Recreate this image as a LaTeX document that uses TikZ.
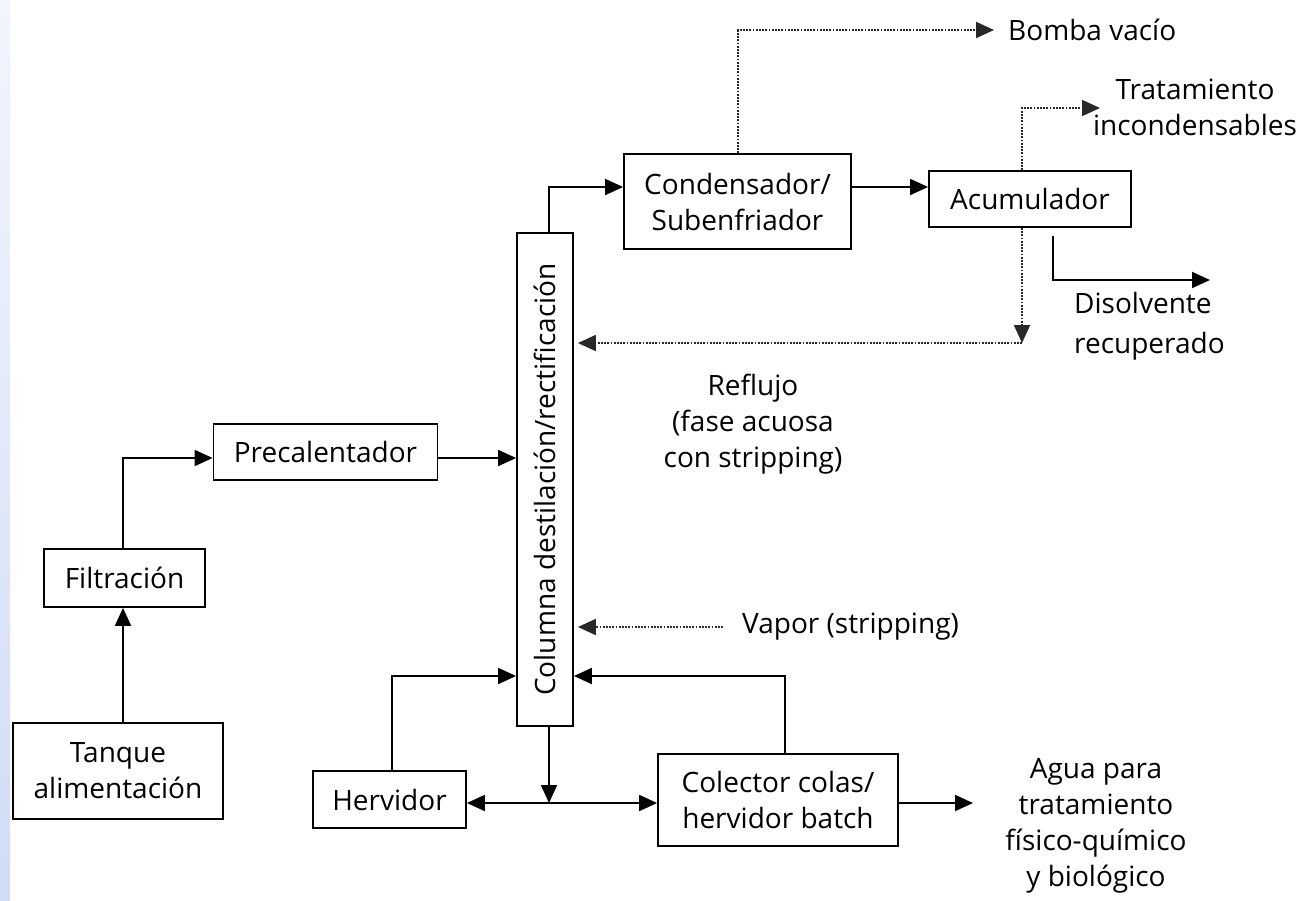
\documentclass[tikz,border=0pt]{standalone}
\usepackage{fontspec}
\setmainfont{Open Sans}
\usetikzlibrary{arrows.meta,calc}
\definecolor{stripTop}{RGB}{242,245,253}
\definecolor{stripBot}{RGB}{208,220,246}
\definecolor{dotgray}{RGB}{40,40,40}
\begin{document}
\begin{tikzpicture}[x=1pt,y=-1pt,
  txt/.style={font=\fontsize{28}{36}\selectfont},
  box/.style={txt, draw, line width=1.8pt, inner sep=0pt, align=center},
  lbl/.style={txt, inner sep=0pt, align=center},
  tip/.tip={Triangle[length=18pt,width=16pt]},
  flow/.style={line width=1.9pt, -tip},
  flowboth/.style={line width=1.9pt, tip-tip},
  dotflow/.style={line width=1.8pt, dotgray, dash pattern=on 1.8pt off 1.4pt, -tip}]
\useasboundingbox (0,0) rectangle (1305,900);
\fill[white] (0,0) rectangle (1305,900);
\shade[top color=stripTop, bottom color=stripBot] (0,0) rectangle (10,900);

% boxes
\node[box, minimum width=210pt, minimum height=96pt] (tanque) at (118,771) {Tanque\\alimentación};
\node[box, minimum width=161pt, minimum height=58pt] (filt) at (124.5,578) {Filtración};
\node[box, minimum width=224pt, minimum height=56pt] (prec) at (325.5,452) {Precalentador};
\node[box, minimum width=56pt, minimum height=493pt] (col) at (545,479.5) {\rotatebox{90}{Columna destilación/rectificación}};
\node[box, minimum width=227pt, minimum height=95pt] (cond) at (737.5,201.5) {Condensador/\\Subenfriador};
\node[box, minimum width=202pt, minimum height=56pt] (acum) at (1030,199) {Acumulador};
\node[box, minimum width=153pt, minimum height=57pt] (herv) at (389.5,799.5) {Hervidor};
\node[box, minimum width=240pt, minimum height=92pt] (colec) at (778,800) {Colector colas/\\hervidor batch};

% labels
\node[lbl, anchor=west] (bomba) at (1008,30) {Bomba vacío};
\node[lbl] (trat) at (1195,107) {Tratamiento\\incondensables};
\node[lbl, align=left, anchor=north west, font=\fontsize{28}{40}\selectfont] (disolv) at (1074,292) {Disolvente\\recuperado};
\node[lbl] (reflujo) at (753,424) {Reflujo\\(fase acuosa\\con stripping)};
\node[lbl, anchor=west] (vapor) at (742,627) {Vapor (stripping)};
\node[lbl] (agua) at (1096,826) {Agua para\\tratamiento\\físico-químico\\y biológico};

% helper coordinates
\coordinate (xa) at (123,0);
\coordinate (ya) at (0,458);
\coordinate (xc) at (549,0);
\coordinate (yc) at (0,187);
\coordinate (xb) at (738,0);
\coordinate (xd) at (1022,0);
\coordinate (tt) at (1100,108);
\coordinate (rf) at (1022,343);
\coordinate (xe) at (1053,0);
\coordinate (de) at (1210,280);
\coordinate (xh) at (392,0);
\coordinate (xk) at (785,0);
\coordinate (yh) at (0,676);
\coordinate (yb) at (0,803);
\coordinate (ag) at (973,803);

% solid connectors
\draw[flow] (tanque.north -| xa) -- (filt.south -| xa);
\draw[flow] (filt.north -| xa) |- (prec.west |- ya);
\draw[flow] (prec.east |- ya) -- (col.west |- ya);
\draw[flow] (col.north -| xc) |- (cond.west |- yc);
\draw[flow] (cond.east |- yc) -- (acum.west |- yc);
\draw[flow] ([yshift=-8pt]acum.south -| xe) |- (de);
\draw[flow] (herv.north -| xh) |- (col.west |- yh);
\draw[flow] (colec.north -| xk) |- (col.east |- yh);
\draw[flow] (col.south -| xc) -- (xc |- yb);
\draw[flowboth] (herv.east |- yb) -- (colec.west |- yb);
\draw[flow] (colec.east |- yb) -- (ag);

% dotted connectors
\draw[dotflow] (cond.north -| xb) |- ([xshift=-14pt]bomba.west);
\draw[dotflow] (acum.north -| xd) |- (tt);
\draw[dotflow] (acum.south -| xd) -- (rf);
\draw[dotflow, shorten >=4pt] (rf) -- (col.east |- rf);
\draw[dotflow, shorten >=4pt] ([xshift=-19pt]vapor.west) -- (col.east |- vapor.west);
\end{tikzpicture}
\end{document}
